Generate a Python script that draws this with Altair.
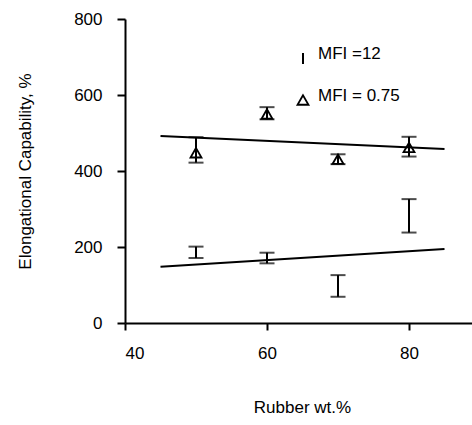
import altair as alt
import pandas as pd

# ---- data ----
rubber = [50, 60, 70, 80]
mfi075_mean = [448, 550, 431, 462]
mfi075_low = [422, 536, 418, 438]
mfi075_high = [489, 568, 444, 490]
mfi12_mean = [186, 171, 97, 282]
mfi12_low = [171, 157, 69, 238]
mfi12_high = [201, 185, 126, 326]

fit_x = [45, 85]
fit075 = [492, 458]
fit12 = [148, 195]

legend_labels = ["MFI =12", "MFI = 0.75"]
x_ticks = [40, 60, 80]
y_ticks = [0, 200, 400, 600, 800]

FONT = "Liberation Sans"
FS = 17

pts = pd.DataFrame({
    "rubber": rubber * 2,
    "mean": mfi075_mean + mfi12_mean,
    "low": mfi075_low + mfi12_low,
    "high": mfi075_high + mfi12_high,
    "series": ["0.75"] * 4 + ["12"] * 4,
})
tri = pts[pts.series == "0.75"]
fits = pd.DataFrame({
    "rubber": fit_x * 2,
    "value": fit075 + fit12,
    "series": ["0.75"] * 2 + ["12"] * 2,
})

xscale = alt.Scale(domain=[40, 88.87], nice=False, zero=False)
yscale = alt.Scale(domain=[0, 800], nice=False)

xaxis = alt.Axis(values=x_ticks, title="Rubber wt.%", grid=False,
                 tickSize=7, labelPadding=15, titleX=177, titleY=89,
                 titleBaseline="alphabetic")
yaxis = alt.Axis(values=y_ticks, title="Elongational Capability, %", grid=False,
                 tickSize=8, labelPadding=15, titleX=-108, titleY=152,
                 titleBaseline="top", titleAngle=-90)


def X(field):
    return alt.X(field, type="quantitative", scale=xscale, axis=xaxis)


def Y(field):
    return alt.Y(field, type="quantitative", scale=yscale, axis=yaxis)


lines = alt.Chart(fits).mark_line(color="black", strokeWidth=2).encode(
    x=X("rubber"), y=Y("value"), detail="series:N"
)

bars = alt.Chart(pts).mark_errorbar(ticks=True, size=15, thickness=2, color="black").encode(
    x=X("rubber"), y=Y("low"), y2="high:Q"
)

tris = alt.Chart(tri).mark_point(shape="triangle-up", size=120, filled=False,
                                 color="black", strokeWidth=1.8, opacity=1).encode(
    x=X("rubber"), y=Y("mean")
)

leg_bar = alt.Chart(pd.DataFrame({"label": [legend_labels[0]]})).mark_rule(
    color="black", strokeWidth=2).encode(
    x=alt.value(178), y=alt.value(34), y2=alt.value(45)
)
leg_tri = alt.Chart(pd.DataFrame({"label": [legend_labels[1]]})).mark_point(
    shape="triangle-up", size=120, filled=False, color="black", strokeWidth=1.8,
    opacity=1).encode(x=alt.value(178), y=alt.value(81))

leg_t1 = alt.Chart(pd.DataFrame({"label": [legend_labels[0]]})).mark_text(
    align="left", baseline="alphabetic", font=FONT, fontSize=FS, color="black").encode(
    x=alt.value(193), y=alt.value(40), text="label:N"
)
leg_t2 = alt.Chart(pd.DataFrame({"label": [legend_labels[1]]})).mark_text(
    align="left", baseline="alphabetic", font=FONT, fontSize=FS, color="black").encode(
    x=alt.value(193), y=alt.value(82), text="label:N"
)

chart = alt.layer(lines, bars, tris, leg_bar, leg_tri, leg_t1, leg_t2).properties(
    width=347, height=304,
    autosize=alt.AutoSizeParams(type="none"),
    padding={"left": 125, "top": 19, "right": 0, "bottom": 102},
    background="white",
).configure_view(stroke=None).configure_axis(
    domainColor="black", domainWidth=2, tickColor="black", tickWidth=2,
    labelFont=FONT, labelFontSize=FS, labelColor="black",
    titleFont=FONT, titleFontSize=FS, titleColor="black", titleFontWeight="normal",
)

chart.save("out.html", embed_options={"renderer": "svg", "actions": False})
